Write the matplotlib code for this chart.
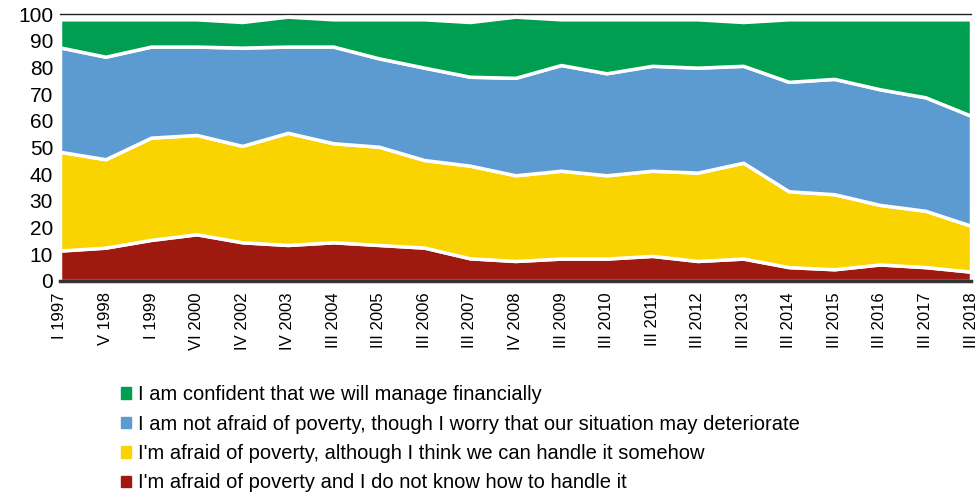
import matplotlib.pyplot as plt
import numpy as np
from matplotlib.patches import Patch

plt.rcParams['font.family'] = ['Liberation Sans', 'DejaVu Sans']

periods = ['I 1997', 'V 1998', 'I 1999', 'VI 2000', 'IV 2002', 'IV 2003', 'III 2004',
           'III 2005', 'III 2006', 'III 2007', 'IV 2008', 'III 2009', 'III 2010',
           'III 2011', 'III 2012', 'III 2013', 'III 2014', 'III 2015', 'III 2016',
           'III 2017', 'III 2018']

# odsetki (%) - od dołu do góry
no_idea = [11.4, 12.5, 15.4, 17.5, 14.5, 13.5, 14.5, 13.5, 12.5, 8.5, 7.5,
           8.4, 8.4, 9.4, 7.5, 8.4, 5.2, 4.4, 6.2, 5.2, 3.5]
handle_it = [37.0, 33.1, 38.3, 37.2, 36.1, 42.0, 37.1, 36.8, 32.8, 34.7, 32.1,
             32.9, 31.2, 31.9, 33.1, 35.9, 28.4, 28.1, 22.3, 21.1, 17.2]
worry = [39.1, 38.4, 34.1, 33.1, 36.8, 32.3, 36.2, 33.1, 34.6, 33.3, 36.5,
         39.6, 38.2, 39.3, 39.3, 36.3, 41.0, 43.2, 43.3, 42.5, 41.2]
confident = [10.5, 14.0, 10.2, 10.2, 9.6, 11.2, 10.2, 14.6, 18.1, 20.5, 22.9,
             17.1, 20.2, 17.4, 18.1, 16.4, 23.4, 22.3, 26.2, 29.2, 36.1]

labels = ["I'm afraid of poverty and I do not know how to handle it",
          "I'm afraid of poverty, although I think we can handle it somehow",
          "I am not afraid of poverty, though I worry that our situation may deteriorate",
          "I am confident that we will manage financially"]
colors = ['#9E1A11', '#FAD400', '#5C9BD1', '#009E50']

fig = plt.figure(figsize=(9.8, 4.99), dpi=100)
ax = fig.add_axes([60/980, 1-281/499, (971-60)/980, (281-14)/499])

x = np.arange(len(periods))
ax.stackplot(x, no_idea, handle_it, worry, confident, colors=colors,
             edgecolor='white', linewidth=2.5)

ax.set_xlim(0, len(periods)-1)
ax.set_ylim(0, 100)
ax.set_yticks(range(0, 101, 10))
ax.tick_params(axis='y', labelsize=15, length=0, pad=5)
ax.set_xticks(x)
ax.set_xticklabels(periods, rotation=90, fontsize=12)
ax.tick_params(axis='x', length=0, pad=8)
for s in ['left', 'right', 'top']:
    ax.spines[s].set_visible(False)
ax.spines['bottom'].set_linewidth(2.5)
ax.spines['bottom'].set_color('#333333')
ax.axhline(100, color='#222222', lw=1, clip_on=False, zorder=0)

handles = [Patch(color=c) for c in colors[::-1]]
fig.legend(handles, labels[::-1], loc='upper left', bbox_to_anchor=(113/980, 1-377/499),
           frameon=False, fontsize=14.5, handlelength=0.5, handleheight=0.5,
           handletextpad=0.35, labelspacing=0.52, borderaxespad=0)

plt.savefig('out.png', dpi=100)
